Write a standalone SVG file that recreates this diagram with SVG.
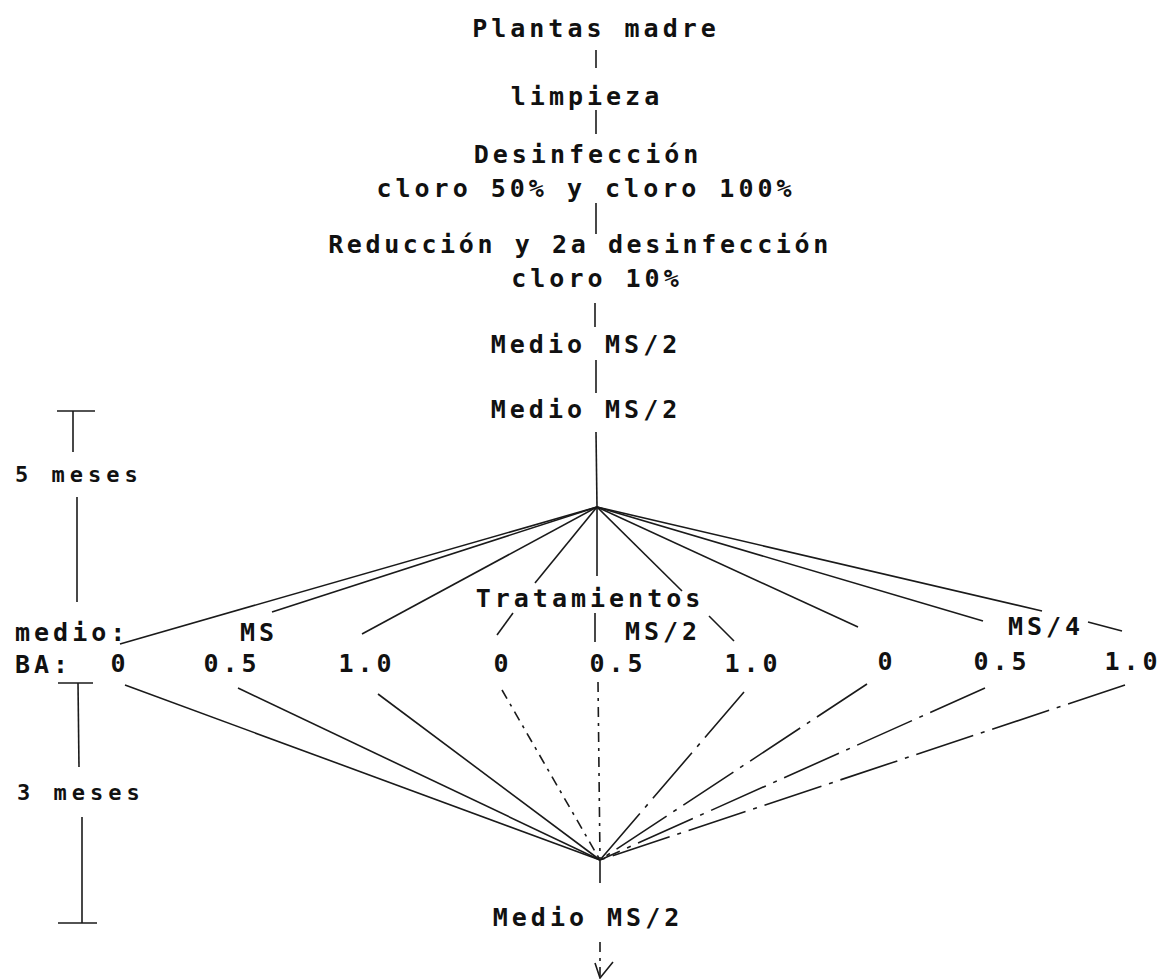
<svg xmlns="http://www.w3.org/2000/svg" width="1162" height="979" viewBox="0 0 1162 979">
<style>
text{font-family:"DejaVu Sans Mono","Liberation Mono",monospace;font-weight:bold;font-size:25px;letter-spacing:4px;fill:#111}
.m{text-anchor:middle}
.s{font-size:22px;letter-spacing:5px}
line,path{stroke:#1a1a1a;stroke-width:1.6;fill:none}
.d{stroke-dasharray:10 6 3 6}
.b{stroke-dasharray:60 8 4 8}
</style>
<rect width="1162" height="979" fill="#fff"/>
<g id="connectors">
<line x1="596" y1="50" x2="596" y2="68"/>
<line x1="596" y1="110" x2="596" y2="134"/>
<line x1="596" y1="203" x2="596" y2="234"/>
<line x1="595" y1="303" x2="595" y2="327"/>
<line x1="596" y1="360" x2="596" y2="393"/>
<line x1="596" y1="432" x2="597" y2="507"/>
<line x1="597" y1="507" x2="120" y2="644"/>
<line x1="597" y1="507" x2="272" y2="612"/>
<line x1="597" y1="507" x2="362" y2="634"/>
<line x1="597" y1="507" x2="535" y2="583"/>
<line x1="513" y1="613" x2="497" y2="635"/>
<line x1="597" y1="507" x2="597" y2="576"/>
<line x1="595" y1="613" x2="595" y2="642"/>
<line x1="597" y1="507" x2="682" y2="591"/>
<line x1="709" y1="616" x2="734" y2="641"/>
<line x1="597" y1="507" x2="858" y2="627"/>
<line x1="597" y1="507" x2="983" y2="621"/>
<line x1="597" y1="507" x2="1042" y2="611"/>
<line x1="1088" y1="622" x2="1122" y2="631"/>
<line x1="125" y1="685" x2="600" y2="860"/>
<line x1="238" y1="688" x2="600" y2="860"/>
<line x1="378" y1="694" x2="600" y2="860"/>
<line class="d" x1="502" y1="690" x2="600" y2="860"/>
<line class="d" x1="598" y1="682" x2="600" y2="860"/>
<line class="b" x1="744" y1="692" x2="600" y2="860"/>
<line class="b" x1="867" y1="684" x2="600" y2="860"/>
<line class="b" x1="985" y1="688" x2="600" y2="860"/>
<line class="b" x1="1125" y1="685" x2="600" y2="860"/>
<line x1="600" y1="860" x2="600" y2="883"/>
<line class="d" x1="600" y1="942" x2="600" y2="976"/>
<path d="M595 963 L600 978 L613 962"/>
</g>
<g id="scale">
<line x1="57" y1="411" x2="95" y2="411"/>
<line x1="73" y1="411" x2="73" y2="452"/>
<line x1="77" y1="497" x2="77" y2="602"/>
<line x1="58" y1="683" x2="93" y2="683"/>
<line x1="78" y1="683" x2="79" y2="767"/>
<line x1="82" y1="817" x2="82" y2="923"/>
<line x1="58" y1="923" x2="97" y2="923"/>
<text id="t5meses" class="s" x="15" y="482">5 meses</text>
<text id="t3meses" class="s" x="17" y="800">3 meses</text>
</g>
<g id="n-plantas"><text class="m" x="596" y="37">Plantas madre</text></g>
<g id="n-limpieza"><text class="m" x="587" y="105">limpieza</text></g>
<g id="n-desinfeccion"><text class="m" x="588" y="163">Desinfección</text><text class="m" x="586" y="197">cloro 50% y cloro 100%</text></g>
<g id="n-reduccion"><text class="m" x="580" y="253" style="letter-spacing:3.6px">Reducción y 2a desinfección</text><text class="m" x="597" y="287">cloro 10%</text></g>
<g id="n-medio1"><text class="m" x="586" y="353">Medio MS/2</text></g>
<g id="n-medio2"><text class="m" x="586" y="418">Medio MS/2</text></g>
<g id="n-tratamientos">
<text class="m" x="590" y="607">Tratamientos</text>
<text x="15" y="641">medio:</text>
<text x="15" y="673">BA:</text>
<text class="m" x="259" y="641">MS</text>
<text class="m" x="663" y="640">MS/2</text>
<text class="m" x="1046" y="635">MS/4</text>
<text class="m" x="120" y="672">0</text>
<text class="m" x="232" y="672">0.5</text>
<text class="m" x="367" y="672">1.0</text>
<text class="m" x="503" y="672">0</text>
<text class="m" x="618" y="672">0.5</text>
<text class="m" x="753" y="672">1.0</text>
<text class="m" x="887" y="670">0</text>
<text class="m" x="1002" y="670">0.5</text>
<text class="m" x="1133" y="670">1.0</text>
</g>
<g id="n-medio3"><text class="m" x="588" y="926">Medio MS/2</text></g>
</svg>
